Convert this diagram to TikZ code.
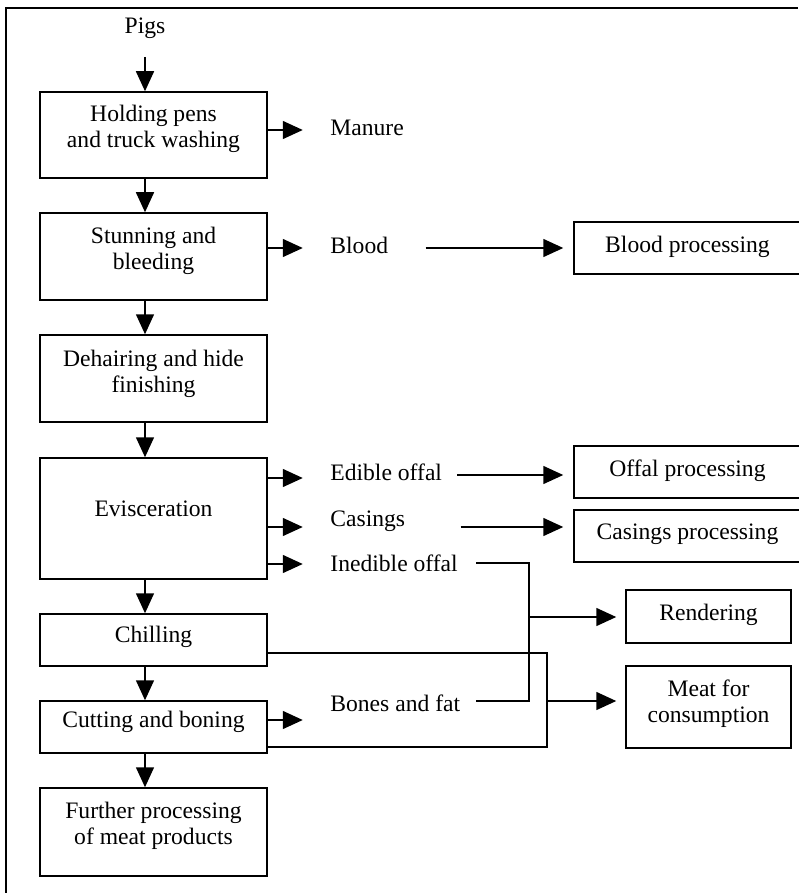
\documentclass[tikz,border=0pt]{standalone}
\usepackage{fontspec}
\setmainfont{Liberation Serif}
\usepackage{tikz}
\usetikzlibrary{
	arrows.meta,
	calc,
	positioning
}

\tikzset{
	stage/.style={draw, line width=0.75pt, minimum width=113.5pt, align=center, inner sep=0pt},
	endbox/.style={draw, line width=0.75pt, align=center, inner sep=0pt},
	stream/.style={anchor=west, inner sep=0pt, text height=1.5ex, text depth=.25ex},
	flow/.style={line width=0.75pt, -{Triangle[length=10pt,width=9pt]}},
	pipe/.style={line width=0.75pt}
}

\begin{document}
\begin{tikzpicture}[x=0.5pt, y=-0.5pt, font=\fontsize{11.8pt}{13pt}\selectfont]
			\useasboundingbox (0,0) rectangle (798,893);
			\draw[line width=1pt] (6,893) -- (6,7.8) -- (798,7.8);
			% main line
			\node[stream, anchor=center] (pigs) at (145,28) {Pigs};
			\node[stage, minimum height=43pt, text depth=8.5pt] (hold) at (153.5,135) {Holding pens\\and truck washing};
			\node[stage, minimum height=43.5pt, text depth=8.5pt] (stun) at (153.5,256.5) {Stunning and\\bleeding};
			\node[stage, minimum height=43.5pt, text depth=7pt] (dehair) at (153.5,378.5) {Dehairing and hide\\finishing};
			\node[stage, minimum height=60.5pt, text depth=10pt] (evis) at (153.5,518.5) {Evisceration};
			\node[stage, minimum height=26pt, text depth=5.6pt] (chill) at (153.5,640) {Chilling};
			\node[stage, minimum height=26pt, text depth=8pt] (cut) at (153.5,727) {Cutting and boning};
			\node[stage, minimum height=44pt, text depth=9pt] (further) at (153.5,832) {Further processing\\of meat products};
			\draw[flow] ([yshift=-14.5pt]pigs.center) -- (hold.north -| pigs);
			\foreach \a/\b in {hold/stun, stun/dehair, dehair/evis, evis/chill, chill/cut, cut/further}
				\draw[flow] (\a.south -| pigs) -- (\b.north -| pigs);
			% by-products
			\node[stream] (manure) at (330,130) {Manure};
			\node[stream] (blood) at (330,248) {Blood};
			\node[stream] (edible) at (330,475) {Edible offal};
			\node[stream] (casings) at (330,521) {Casings};
			\node[stream] (inedible) at (330,566) {Inedible offal};
			\node[stream] (bones) at (330,706) {Bones and fat};
			\draw[flow] (hold.east |- 0,130) -- ++(35,0);
			\draw[flow] (stun.east |- 0,248) -- ++(35,0);
			\foreach \y in {478,527,564}
				\draw[flow] (evis.east |- 0,\y) -- ++(35,0);
			\draw[flow] (cut.east |- 0,720) -- ++(35,0);
			% processing
			\node[endbox, minimum width=113.5pt, minimum height=26pt, text depth=4pt] (bproc) at (687.5,248) {Blood processing};
			\node[endbox, minimum width=113.5pt, minimum height=26pt, text depth=4pt] (oproc) at (687.5,472) {Offal processing};
			\node[endbox, minimum width=113.5pt, minimum height=26pt, text depth=4pt] (cproc) at (687.5,536) {Casings processing};
			\node[endbox, minimum width=82.5pt, minimum height=26.5pt, text depth=4pt] (rend) at (708.5,616.5) {Rendering};
			\node[endbox, minimum width=82.5pt, minimum height=41pt, text depth=6pt] (meat) at (708.5,707) {Meat for\\consumption};
			\draw[flow, shorten <=18.5pt, shorten >=5pt] (blood) -- (bproc);
			\draw[flow, shorten <=7.5pt, shorten >=5pt] (edible.east) -- (edible.east -| oproc.west);
			\draw[flow, shorten <=27.5pt, shorten >=5pt] ([yshift=-3pt]casings.east) -- ([yshift=-3pt]casings.east -| cproc.west);
			\coordinate (jr) at (529,617);
			\coordinate (jm) at (547,701);
			\draw[pipe] ([xshift=9pt,yshift=1.5pt]inedible.east) -| (jr) |- ([xshift=7.5pt,yshift=2.5pt]bones.east);
			\draw[flow, shorten >=4.5pt] (jr) -- (jr -| rend.west);
			\draw[pipe] ([yshift=-6.5pt]chill.east) -| (jm) |- ([yshift=-10pt]cut.east);
			\draw[flow, shorten >=4.5pt] (jm) -- (jm -| meat.west);
		\end{tikzpicture}
\end{document}
